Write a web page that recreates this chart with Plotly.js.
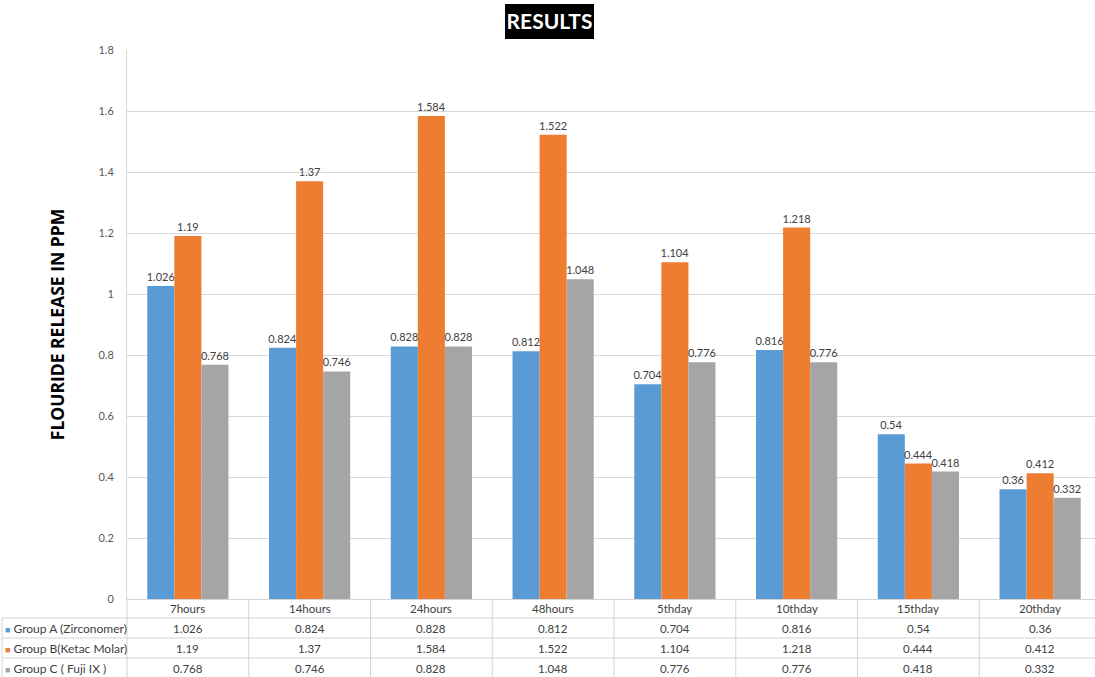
<!DOCTYPE html>
<html>
<head>
<meta charset="utf-8">
<script src="https://cdn.plot.ly/plotly-3.0.1.min.js"></script>
<style>html,body{margin:0;padding:0;overflow:hidden;background:#fff;}</style>
</head>
<body>
<div id="chart" style="width:1101px;height:677px;"></div>
<script>
const categories = ['7hours','14hours','24hours','48hours','5thday','10thday','15thday','20thday'];
const groupA = [1.026,0.824,0.828,0.812,0.704,0.816,0.54,0.36];
const groupB = [1.19,1.37,1.584,1.522,1.104,1.218,0.444,0.412];
const groupC = [0.768,0.746,0.828,1.048,0.776,0.776,0.418,0.332];
const seriesNames = ['Group A (Zirconomer)','Group B(Ketac Molar)','Group C ( Fuji IX )'];
const seriesColors = ['#5B9BD5','#ED7D31','#A5A5A5'];
const seriesValues = [groupA, groupB, groupC];

const W = 1101, H = 677, ML = 127, MR = 0, MT = 50, MB = 78;
const PW = W - ML - MR, PH = H - MT - MB;
const py = p => (H - MB - p) / PH;   // pixel y -> paper y
const px = p => (p - ML) / PW;       // pixel x -> paper x

const font = 'Lato, "Open Sans", sans-serif';
const txtColor = '#404040';
const lineColor = '#D4D4D4';

const traces = seriesValues.map((vals, k) => ({
  type: 'bar',
  name: seriesNames[k],
  x: categories,
  y: vals,
  marker: {color: seriesColors[k]},
  text: vals.map(v => String(v)),
  textposition: 'outside',
  constraintext: 'none',
  cliponaxis: false,
  textfont: {family: font, size: 11, color: txtColor},
  hoverinfo: 'x+y+name'
}));

const annotations = [];
const rowY = [608, 628, 648, 668];
categories.forEach((c, i) => {
  annotations.push({xref: 'x', yref: 'paper', x: c, y: py(rowY[0]), text: c, showarrow: false,
    xanchor: 'center', yanchor: 'middle', font: {family: font, size: 11.5, color: txtColor}});
  seriesValues.forEach((vals, k) => {
    annotations.push({xref: 'x', yref: 'paper', x: c, y: py(rowY[k + 1]), text: String(vals[i]), showarrow: false,
      xanchor: 'center', yanchor: 'middle', font: {family: font, size: 11.5, color: txtColor}});
  });
});
seriesNames.forEach((n, k) => {
  annotations.push({xref: 'paper', yref: 'paper', x: px(3), y: py(rowY[k + 1]),
    text: '<span style="color:' + seriesColors[k] + ';font-size:9px">■</span> ' + n, showarrow: false,
    xanchor: 'left', yanchor: 'middle', font: {family: font, size: 12, color: txtColor}});
});

const shapes = [];
// black title box
shapes.push({type: 'rect', xref: 'paper', yref: 'paper', x0: px(505), x1: px(594), y0: py(39), y1: py(4),
  fillcolor: '#000000', line: {width: 0}, layer: 'above'});
// table horizontal lines
[618, 638, 658].forEach(p => shapes.push({type: 'line', xref: 'paper', yref: 'paper', x0: px(2), x1: 1,
  y0: py(p), y1: py(p), line: {color: lineColor, width: 1}}));
// table vertical lines between categories
for (let i = 0; i < categories.length - 1; i++) {
  shapes.push({type: 'line', xref: 'x', yref: 'paper', x0: i + 0.5, x1: i + 0.5, y0: 0, y1: py(H),
    line: {color: lineColor, width: 1}});
}
// y-axis line extension & left border
shapes.push({type: 'line', xref: 'paper', yref: 'paper', x0: 0, x1: 0, y0: 0, y1: py(H), line: {color: lineColor, width: 1}});
shapes.push({type: 'line', xref: 'paper', yref: 'paper', x0: px(2), x1: px(2), y0: py(618), y1: py(H), line: {color: lineColor, width: 1}});

const layout = {
  width: W, height: H,
  margin: {l: ML, r: MR, t: MT, b: MB, pad: 0},
  paper_bgcolor: '#ffffff', plot_bgcolor: '#ffffff',
  showlegend: false,
  barmode: 'group',
  bargap: 0.333,
  bargroupgap: 0,
  title: {text: '<b>RESULTS</b>', xref: 'container', yref: 'container', x: 549.5 / W, y: 1 - 22 / H,
    xanchor: 'center', yanchor: 'middle', font: {family: 'Lato, "Open Sans", sans-serif', size: 21, color: '#ffffff'}},
  xaxis: {type: 'category', showticklabels: false, ticks: '', showgrid: false, zeroline: false,
    showline: true, linecolor: lineColor, linewidth: 1, fixedrange: true},
  yaxis: {range: [0, 1.8], dtick: 0.2, tick0: 0, showgrid: true, gridcolor: '#D9D9D9', gridwidth: 1,
    zeroline: false, showline: true, linecolor: lineColor, ticks: '', ticklabelstandoff: 10,
    tickfont: {family: font, size: 11, color: '#595959'},
    title: {text: '<b>FLOURIDE RELEASE IN PPM</b>', standoff: 29,
      font: {family: '"Open Sans", sans-serif', size: 17.5, color: '#000000'}},
    fixedrange: true},
  annotations: annotations,
  shapes: shapes
};

Plotly.newPlot('chart', traces, layout, {displayModeBar: false, staticPlot: true});
</script>
</body>
</html>
